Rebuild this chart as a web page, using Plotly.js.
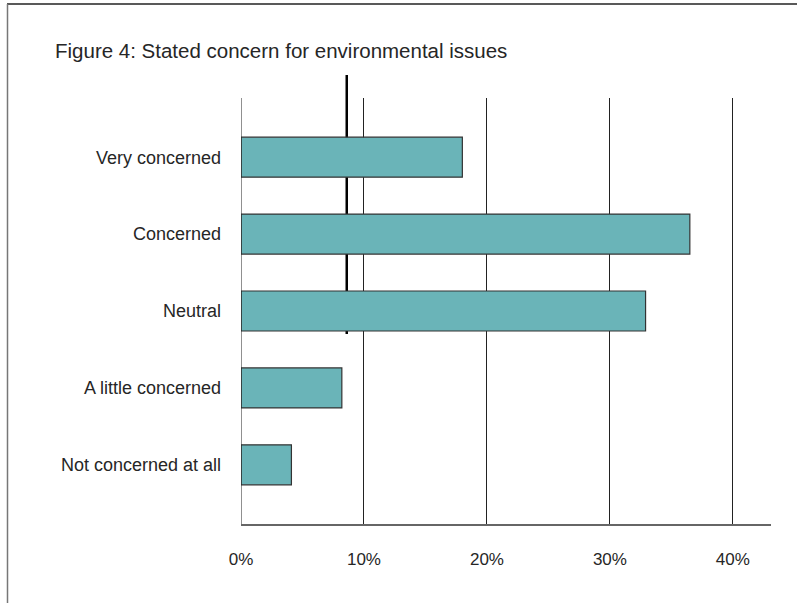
<!DOCTYPE html>
<html>
<head>
<meta charset="utf-8">
<script src="https://cdn.plot.ly/plotly-3.0.1.min.js"></script>
<style>
  html, body { margin: 0; padding: 0; background: #fff; }
  #chart { width: 797px; height: 603px; }
</style>
</head>
<body>
<div id="chart"></div>
<script>
// Survey responses: share of respondents by level of concern
const categories = ["Very concerned", "Concerned", "Neutral", "A little concerned", "Not concerned at all"];
const shares = [18.0, 36.5, 32.9, 8.2, 4.1];
const tickValues = [0, 10, 20, 30, 40];
const tickLabels = ["0%", "10%", "20%", "30%", "40%"];
// Reference marker drawn as a heavy vertical rule
const referenceShare = 8.6;

const bars = {
  type: "bar",
  orientation: "h",
  y: categories,
  x: shares,
  width: 0.52,
  marker: { color: "#6ab4b8", line: { color: "#333333", width: 1.2 } },
  hoverinfo: "skip"
};

const layout = {
  width: 797,
  height: 603,
  margin: { l: 241, r: 26, t: 98, b: 79 },
  paper_bgcolor: "#ffffff",
  plot_bgcolor: "#ffffff",
  showlegend: false,
  font: { family: "Liberation Sans, Arial, sans-serif", color: "#262626", size: 16 },
  title: {
    text: "Figure 4: Stated concern for environmental issues",
    font: { size: 20.5, color: "#262626" },
    x: 55 / 797, xref: "container", xanchor: "left",
    y: 1 - 51 / 603, yref: "container", yanchor: "middle"
  },
  xaxis: {
    range: [0, 43.1],
    tickvals: tickValues,
    ticktext: tickLabels,
    showgrid: true,
    gridcolor: "#222222",
    gridwidth: 1,
    zeroline: false,
    showline: true,
    linecolor: "#666666",
    linewidth: 2,
    ticks: "",
    ticklabelstandoff: 19,
    tickfont: { size: 17, color: "#262626" },
    fixedrange: true
  },
  yaxis: {
    type: "category",
    categoryorder: "array",
    categoryarray: categories,
    autorange: false,
    range: [4.77, -0.77],
    showgrid: false,
    zeroline: false,
    showline: false,
    ticks: "",
    ticklabelstandoff: 19,
    tickfont: { size: 18, color: "#262626" },
    fixedrange: true
  },
  shapes: [
    // left spine of the plot
    { type: "line", xref: "x", yref: "paper", x0: 0, x1: 0, y0: 0, y1: 1,
      line: { color: "#222222", width: 1 }, layer: "above" },
    // reference rule
    { type: "line", xref: "x", yref: "paper", x0: referenceShare, x1: referenceShare,
      y0: 0, y1: 1, line: { color: "#000000", width: 2.5 }, layer: "below" },
    // page frame: top and left edges
    { type: "line", xref: "paper", yref: "paper", x0: 0, x1: 1, y0: 1, y1: 1,
      line: { color: "#222222", width: 1.5 } },
    { type: "line", xref: "paper", yref: "paper", x0: 0, x1: 0, y0: 0, y1: 1,
      line: { color: "#777777", width: 1.5 } }
  ]
};

// convert page pixel positions into paper units of the plot area
(function () {
  const plotW = 797 - 241 - 26, plotH = 603 - 98 - 79;
  const px = (x) => (x - 241) / plotW;
  const py = (y) => (603 - 79 - y) / plotH;
  layout.shapes[2].x0 = px(7); layout.shapes[2].x1 = px(800);
  layout.shapes[2].y0 = layout.shapes[2].y1 = py(4);
  layout.shapes[3].x0 = layout.shapes[3].x1 = px(7.5);
  layout.shapes[3].y0 = py(610); layout.shapes[3].y1 = py(4);
  layout.shapes[1].y0 = py(334); layout.shapes[1].y1 = py(75);
})();

Plotly.newPlot("chart", [bars], layout, { displayModeBar: false, staticPlot: true });
</script>
</body>
</html>
